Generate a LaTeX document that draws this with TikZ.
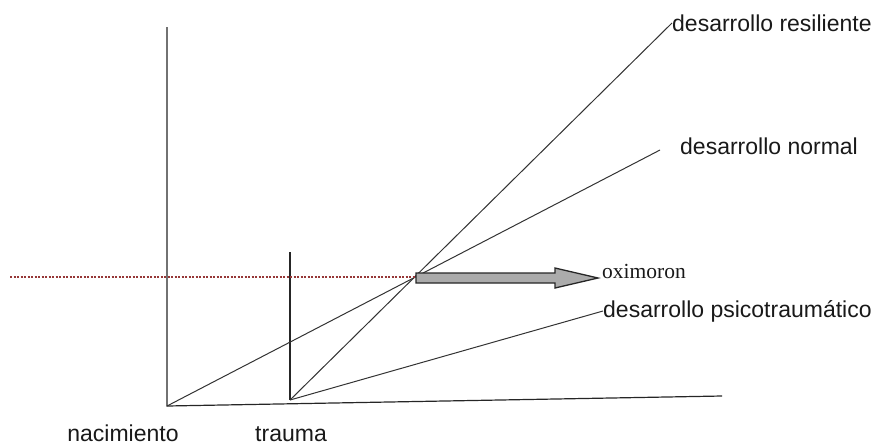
\documentclass[tikz,border=0pt]{standalone}
\usepackage{fontspec}
\setmainfont{Liberation Sans}
\newfontfamily\serifox{Liberation Serif}
\begin{document}
\begin{tikzpicture}[x=1pt,y=-1pt,
  axis/.style={line width=1.2pt, black!85},
  trend/.style={line width=1pt, black!80},
  lab/.style={font=\fontsize{23}{25}\selectfont, inner sep=0pt, text=black!90},
  fatarrow/.style={fill=black!33, draw=black!85, line width=1.3pt, line join=miter}]
\useasboundingbox (0,0) rectangle (880,445);
% coordinates
\coordinate (o) at (167,406);
\coordinate (ytop) at (167,27);
\coordinate (xend) at (722,396);
\coordinate (t) at (290,400);
\coordinate (ttop) at (290,252);
\coordinate (x) at (416,277);
\coordinate (dl) at (10,277);
% labels
\node[lab, anchor=west] (res) at (672,23) {desarrollo resiliente};
\node[lab, anchor=west] (nor) at (680,146) {desarrollo normal};
\node[lab, anchor=west] (psi) at (603,311) {desarrollo psicotraumático};
\node[lab, anchor=west, font=\serifox\fontsize{21.5}{23}\selectfont] (oxi) at (602,271) {oximoron};
\node[lab, anchor=base] (nac) at (123,441) {nacimiento};
\node[lab, anchor=base] (tra) at (291,441) {trauma};
% axes
\draw[axis] (ytop) -- (o) -- (xend);
\draw[axis] (ttop) -- (t);
% trends
\draw[trend] (o) -- (660,150);
\draw[trend] (t) -- (res.west);
\draw[trend] (t) -- (psi.west);
% dotted line
\draw[line width=1.1pt, dash pattern=on 2pt off 1.5pt, color={rgb,255:red,150;green,55;blue,55}] (dl) -- (x);
% fat arrow
\draw[fatarrow] (416,273) -- (555,273) -- (555,268) -- (598,278) -- (555,288) -- (555,283) -- (416,283) -- cycle;
\end{tikzpicture}
\end{document}
